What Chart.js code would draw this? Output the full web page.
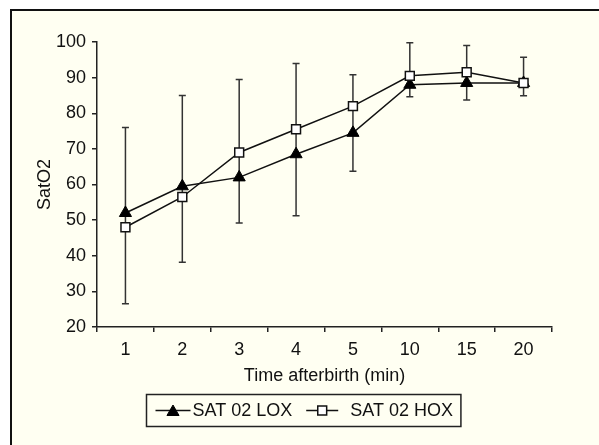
<!DOCTYPE html>
<html lang="en">
<head>
<meta charset="UTF-8">
<title>SatO2 after birth</title>
<script src="https://cdn.jsdelivr.net/npm/chart.js"></script>
<style>
    body { margin: 0; background: #fff; }
    .frame {
        position: absolute; left: 10px; top: 9px;
        width: 587px; height: 434px;
        border-left: 2px solid #111; border-top: 2px solid #111;
        background: #fffff2;
    }
    .frame canvas { display: block; }
</style>
</head>
<body>
<div class="frame"><canvas id="satChart" width="587" height="434"></canvas></div>
<script>
    // values
    const minutes = ['1', '2', '3', '4', '5', '10', '15', '20'];
    const satLox = [52, 59.5, 62, 68.5, 74.5, 88, 88.5, 88.5];
    const satHox = [48, 56.5, 69, 75.5, 82, 90.5, 91.5, 88.5];
    // ends of the single error bar drawn at each time point
    const errTop = [76, 85, 89.5, 94, 90.8, 99.8, 99, 95.7];
    const errBottom = [26.5, 38.2, 49.2, 51.2, 63.7, 84.6, 83.7, 84.9];

    const family = "'Liberation Sans', Arial, sans-serif";
    Chart.defaults.font.family = family;
    Chart.defaults.font.size = 18;
    Chart.defaults.color = '#111';

    const errorBars = {
        id: 'errorBars',
        beforeDatasetsDraw(chart) {
            const { ctx, scales: { x, y } } = chart;
            ctx.save();
            ctx.strokeStyle = '#333';
            ctx.lineWidth = 1.5;
            minutes.forEach((m, i) => {
                const px = x.getPixelForValue(i);
                const top = y.getPixelForValue(errTop[i]);
                const bot = y.getPixelForValue(errBottom[i]);
                ctx.beginPath();
                ctx.moveTo(px, top); ctx.lineTo(px, bot);
                ctx.moveTo(px - 3.5, top); ctx.lineTo(px + 3.5, top);
                ctx.moveTo(px - 3.5, bot); ctx.lineTo(px + 3.5, bot);
                ctx.stroke();
            });
            ctx.restore();
        }
    };

    // boxed legend with a line+marker icon for each series
    const boxLegend = {
        id: 'boxLegend',
        afterDraw(chart) {
            const { ctx } = chart;
            const xs = chart.scales.x;
            const sets = chart.data.datasets;
            const iconW = [35, 32];
            const gapText = [2, 12];
            const gapItem = 14;
            ctx.save();
            ctx.font = '18px ' + family;
            const textW = sets.map(ds => ctx.measureText(ds.label).width);
            let total = 9 + 8 + gapItem;
            sets.forEach((ds, i) => { total += iconW[i] + gapText[i] + textW[i]; });
            const h = 32;
            const left = Math.round(chart.width / 2 - 2 - total / 2) + 0.5;
            const top = Math.round(xs.bottom + 7) + 0.5;
            const cy = top + h / 2;

            ctx.strokeStyle = '#222';
            ctx.lineWidth = 1.5;
            ctx.strokeRect(left, top, total, h);

            let cx = left + 9;
            sets.forEach((ds, i) => {
                ctx.strokeStyle = '#111';
                ctx.lineWidth = 1.5;
                ctx.beginPath();
                ctx.moveTo(cx, cy); ctx.lineTo(cx + iconW[i], cy);
                ctx.stroke();
                ctx.fillStyle = ds.pointBackgroundColor;
                ctx.strokeStyle = ds.pointBorderColor;
                ctx.lineWidth = ds.pointBorderWidth;
                Chart.helpers.drawPoint(ctx, {
                    pointStyle: ds.pointStyle,
                    radius: ds.pointRadius,
                    borderWidth: ds.pointBorderWidth
                }, cx + iconW[i] / 2, cy + (ds.pointStyle === 'triangle' ? 1.5 : 0));
                cx += iconW[i] + gapText[i];
                ctx.fillStyle = '#111';
                ctx.textBaseline = 'middle';
                ctx.fillText(ds.label, cx, cy + 1);
                cx += textW[i] + gapItem;
            });
            ctx.restore();
        }
    };

    const ctx = document.getElementById('satChart').getContext('2d');
    new Chart(ctx, {
        type: 'line',
        data: {
            labels: minutes,
            datasets: [{
                label: 'SAT 02 LOX',
                data: satLox,
                borderColor: '#111',
                borderWidth: 1.5,
                pointStyle: 'triangle',
                pointRadius: 7,
                pointBackgroundColor: '#000',
                pointBorderColor: '#000',
                pointBorderWidth: 1,
                tension: 0,
                order: 1
            }, {
                label: 'SAT 02 HOX',
                data: satHox,
                borderColor: '#111',
                borderWidth: 1.5,
                pointStyle: 'rect',
                pointRadius: 6.3,
                pointBackgroundColor: '#fff',
                pointBorderColor: '#111',
                pointBorderWidth: 1.5,
                tension: 0,
                order: 0
            }]
        },
        options: {
            responsive: false,
            animation: false,
            layout: { padding: { top: 31, right: 47, bottom: 58, left: 0 } },
            plugins: {
                legend: { display: false },
                tooltip: { enabled: false }
            },
            scales: {
                x: {
                    offset: true,
                    grid: { offset: true, drawOnChartArea: false, tickLength: 5, color: '#222', lineWidth: 1.5 },
                    border: { color: '#222', width: 1.5 },
                    ticks: { padding: 7 },
                    title: { display: true, text: 'Time afterbirth (min)', padding: { top: 0, bottom: 0 } },
                    afterFit(scale) { scale.height = 60; }
                },
                y: {
                    min: 20,
                    max: 100,
                    ticks: { stepSize: 10, padding: 6 },
                    grid: { drawOnChartArea: false, tickLength: 5, color: '#222', lineWidth: 1.5 },
                    border: { color: '#222', width: 1.5 },
                    title: { display: true, text: 'SatO2', padding: { top: 22, bottom: 0 } },
                    afterFit(scale) { scale.width = 85; }
                }
            }
        },
        plugins: [errorBars, boxLegend]
    });
</script>
</body>
</html>
